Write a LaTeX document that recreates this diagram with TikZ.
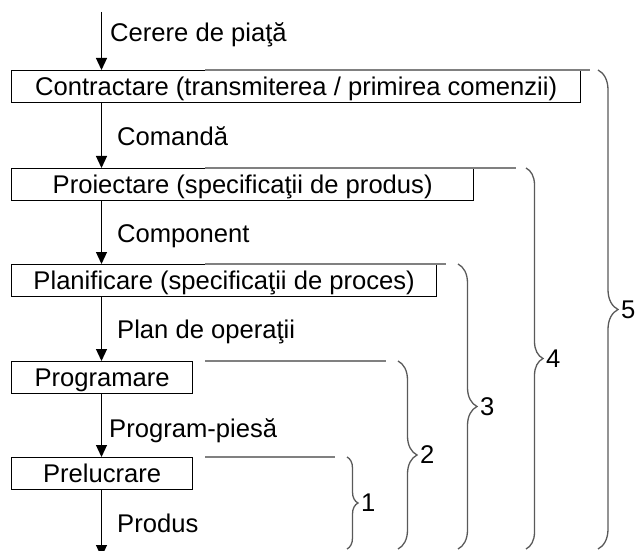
\documentclass[tikz,border=0pt]{standalone}
\usepackage{fontspec}
\setmainfont{Liberation Sans}
\usetikzlibrary{arrows.meta,decorations.pathreplacing}

\begin{document}
\begin{tikzpicture}[x=1pt,y=-1pt,
  font=\fontsize{25.6}{30}\selectfont,
  stage/.style={draw=black, line width=1.3pt, anchor=north west,
    minimum height=32pt, inner sep=0pt, text height=17pt, text depth=0pt},
  flow/.style={draw=black, line width=1.2pt, -{Triangle[length=12pt,width=11pt]}},
  lbl/.style={anchor=base west, inner sep=0pt},
  scopeline/.style={draw=black!50, line width=1.6pt},
  bracket/.style={draw=black!65, line width=1.3pt, decorate,
    decoration={brace, amplitude=#1}},
  bracketnum/.style={anchor=west, inner sep=0pt}
]
\useasboundingbox (0,0) rectangle (641,551);

% process stages
\node[stage, minimum width=569pt] (contract) at (11,70)
  {Contractare (transmiterea / primirea comenzii)};
\node[stage, minimum width=462pt] (proiect) at (11,168)
  {Proiectare (specificaţii de produs)};
\node[stage, minimum width=425pt] (planif) at (11,264)
  {Planificare (specificaţii de proces)};
\node[stage, minimum width=181pt] (program) at (11,361) {Programare};
\node[stage, minimum width=181pt] (prelucr) at (11,457) {Prelucrare};

% flow between stages
\coordinate (src) at (101.5,12);
\coordinate (sink) at (101.5,557);
\draw[flow] (src) -- (src |- contract.north);
\draw[flow] (contract.south -| src) -- (proiect.north -| src);
\draw[flow] (proiect.south -| src) -- (planif.north -| src);
\draw[flow] (planif.south -| src) -- (program.north -| src);
\draw[flow] (program.south -| src) -- (prelucr.north -| src);
\draw[flow] (prelucr.south -| src) -- (sink);

% flow labels
\node[lbl] (lcerere) at (110,42) {Cerere de piaţă};
\node[lbl] (lcomanda) at (117,146) {Comandă};
\node[lbl] (lcomp) at (117,242) {Component};
\node[lbl] (lplan) at (117,338) {Plan de operaţii};
\node[lbl] (lpp) at (109,437) {Program-piesă};
\node[lbl] (lprodus) at (117,532) {Produs};

% scope lines and braces
\coordinate (b5) at (598,70);
\coordinate (b4) at (526,168);
\coordinate (b3) at (458,264);
\coordinate (b2) at (398,361);
\coordinate (b1) at (347,457);
\coordinate (bend) at (0,549);

\draw[scopeline] (205,70) -- (590,70);
\draw[scopeline] (205,168) -- (516,168);
\draw[scopeline] (205,264) -- (446,264);
\draw[scopeline] (205,361) -- (386,361);
\draw[scopeline] (205,457) -- (335,457);

\draw[bracket=20pt] (b5) -- (b5 |- bend);
\draw[bracket=17pt] (b4) -- (b4 |- bend);
\draw[bracket=19pt] (b3) -- (b3 |- bend);
\draw[bracket=19pt] (b2) -- (b2 |- bend);
\draw[bracket=11pt] (b1) -- (b1 |- bend);

\node[bracketnum] (n5) at (621,309.5) {5};
\node[bracketnum] (n4) at (546,358.5) {4};
\node[bracketnum] (n3) at (480,406.5) {3};
\node[bracketnum] (n2) at (420,455) {2};
\node[bracketnum] (n1) at (361,503) {1};
\end{tikzpicture}
\end{document}
